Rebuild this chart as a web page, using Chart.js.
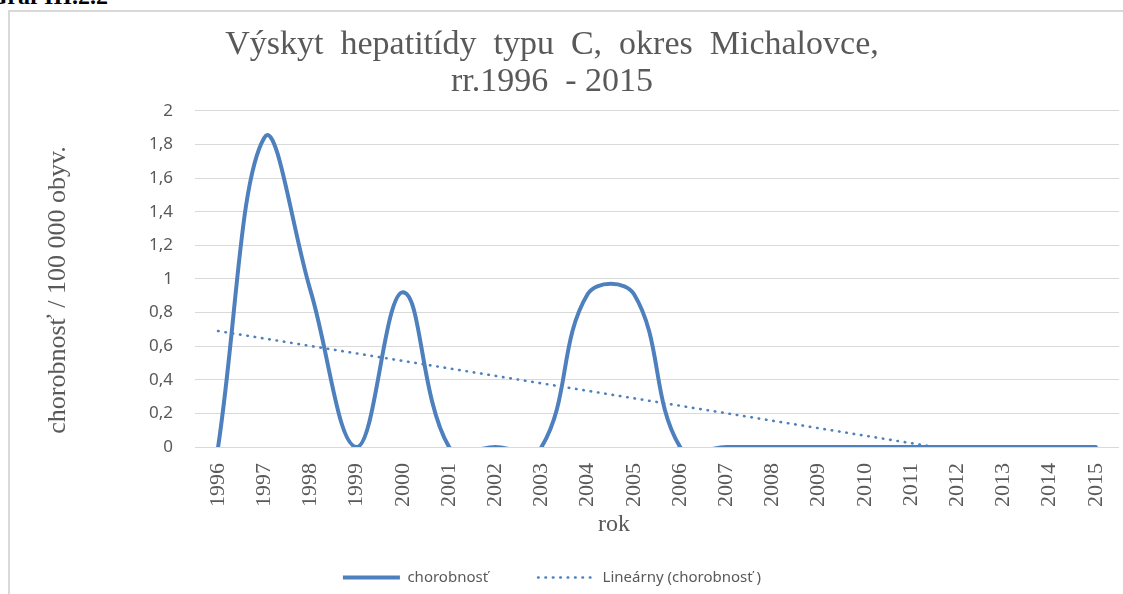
<!DOCTYPE html>
<html>
<head>
<meta charset="utf-8">
<script src="https://cdn.jsdelivr.net/npm/chart.js@4.4.1/dist/chart.umd.min.js"></script>
<style>
  html, body { margin: 0; padding: 0; background: #fff; }
  body { width: 1123px; height: 594px; position: relative; overflow: hidden; }
  #frame { position: absolute; left: 8px; top: 10px; width: 1130px; height: 600px; border: 2px solid #d9d9d9; box-sizing: border-box; }
  #graf { position: absolute; right: 1015px; top: -17px; font: bold 24px "Liberation Serif", serif; color: #000; white-space: nowrap; }
  #wrap { position: absolute; left: 0; top: 0; width: 1123px; height: 594px; }
</style>
</head>
<body>
<div id="frame"></div>
<div id="graf">Graf III.2.2</div>
<div id="wrap"><canvas id="hepChart"></canvas></div>
<script>
// roky a chorobnosť / 100 000 obyv. (odčítané z grafu)
const years = ['1996', '1997', '1998', '1999', '2000', '2001', '2002', '2003', '2004', '2005',
               '2006', '2007', '2008', '2009', '2010', '2011', '2012', '2013', '2014', '2015'];
const morbidity = [0, 1.84, 0.93, 0, 0.92, 0, 0, 0, 0.91, 0.91,
                   0, 0, 0, 0, 0, 0, 0, 0, 0, 0];
// lineárny trend - koncové body odčítané z grafu
const trend = [0.69, null, null, null, null, null, null, null, null, null,
               null, null, null, null, null, null, null, null, null, -0.155];

const grey = '#595959';
const blue = '#4d80bd';

// axis titles are placed like in the Excel original (not centred on the plot)
const axisTitlePlugin = {
    id: 'axisTitles',
    afterDraw(chart) {
        const ctx = chart.ctx;
        const area = chart.chartArea;
        ctx.save();
        ctx.font = '24px "Liberation Serif", serif';
        ctx.fillStyle = grey;
        ctx.textAlign = 'center';
        ctx.textBaseline = 'middle';
        ctx.fillText('rok', (area.left + area.right) / 2 - 43, 525);

        ctx.font = '26px "Liberation Serif", serif';
        ctx.translate(58, 290);
        ctx.rotate(-Math.PI / 2);
        ctx.fillText('chorobnosť / 100 000 obyv.', 0, 0);
        ctx.restore();
    }
};

new Chart(document.getElementById('hepChart'), {
    type: 'line',
    data: {
        labels: years,
        datasets: [{
            label: 'chorobnosť',
            data: morbidity,
            borderColor: blue,
            backgroundColor: blue,
            borderWidth: 4,
            borderCapStyle: 'round',
            tension: 0.4,
            capBezierPoints: false,
            clip: { left: 5, right: 5, top: 5, bottom: 0 },
            pointRadius: 0,
            fill: false
        }, {
            label: 'Lineárny (chorobnosť )',
            data: trend,
            spanGaps: true,
            borderColor: blue,
            backgroundColor: blue,
            borderWidth: 2.6,
            borderCapStyle: 'round',
            borderDash: [0.5, 6.9],
            clip: { left: 5, right: 5, top: 5, bottom: 0 },
            pointRadius: 0,
            fill: false
        }]
    },
    options: {
        responsive: true,
        maintainAspectRatio: false,
        animation: false,
        layout: { padding: { left: -15, right: 4, top: 0, bottom: -1 } },
        plugins: {
            title: {
                display: true,
                text: ['Výskyt  hepatitídy  typu  C,  okres  Michalovce,', 'rr.1996  - 2015'],
                color: grey,
                font: { family: '"Liberation Serif", serif', size: 34, weight: 'normal', lineHeight: 1.1 },
                padding: { top: 26, bottom: 10 }
            },
            legend: {
                position: 'bottom',
                labels: {
                    color: grey,
                    font: { family: '"Noto Sans", sans-serif', size: 15 },
                    usePointStyle: true,
                    pointStyle: 'line',
                    pointStyleWidth: 57,
                    boxHeight: 10,
                    padding: 50,
                    generateLabels(chart) {
                        const items = Chart.defaults.plugins.legend.labels.generateLabels(chart);
                        items.forEach((item) => {
                            const ds = chart.data.datasets[item.datasetIndex];
                            item.lineWidth = ds.borderWidth;
                            item.lineDash = ds.borderDash || [];
                            item.lineCap = ds.borderDash ? 'round' : 'butt';
                            item.strokeStyle = ds.borderColor;
                        });
                        return items;
                    }
                }
            },
            tooltip: { enabled: false }
        },
        scales: {
            x: {
                offset: true,
                grid: { display: false, drawTicks: false },
                border: { display: false },
                ticks: {
                    color: grey,
                    font: { family: '"Liberation Serif", serif', size: 22 },
                    minRotation: 90,
                    maxRotation: 90,
                    padding: 16,
                    autoSkip: false
                },
                afterFit(scale) {
                    scale.height = 73;
                    scale.paddingLeft = 0;
                    scale.paddingRight = 0;
                }
            },
            y: {
                min: 0,
                max: 2,
                grid: { color: '#d9d9d9', lineWidth: 1, drawTicks: false },
                border: { display: false },
                ticks: {
                    stepSize: 0.2,
                    color: grey,
                    padding: 22,
                    font: { family: '"Noto Sans", sans-serif', size: 17 },
                    callback: (v) => String(Math.round(v * 10) / 10).replace('.', ',')
                },
                afterFit(scale) { scale.width = 210; }
            }
        }
    },
    plugins: [axisTitlePlugin]
});
</script>
</body>
</html>
